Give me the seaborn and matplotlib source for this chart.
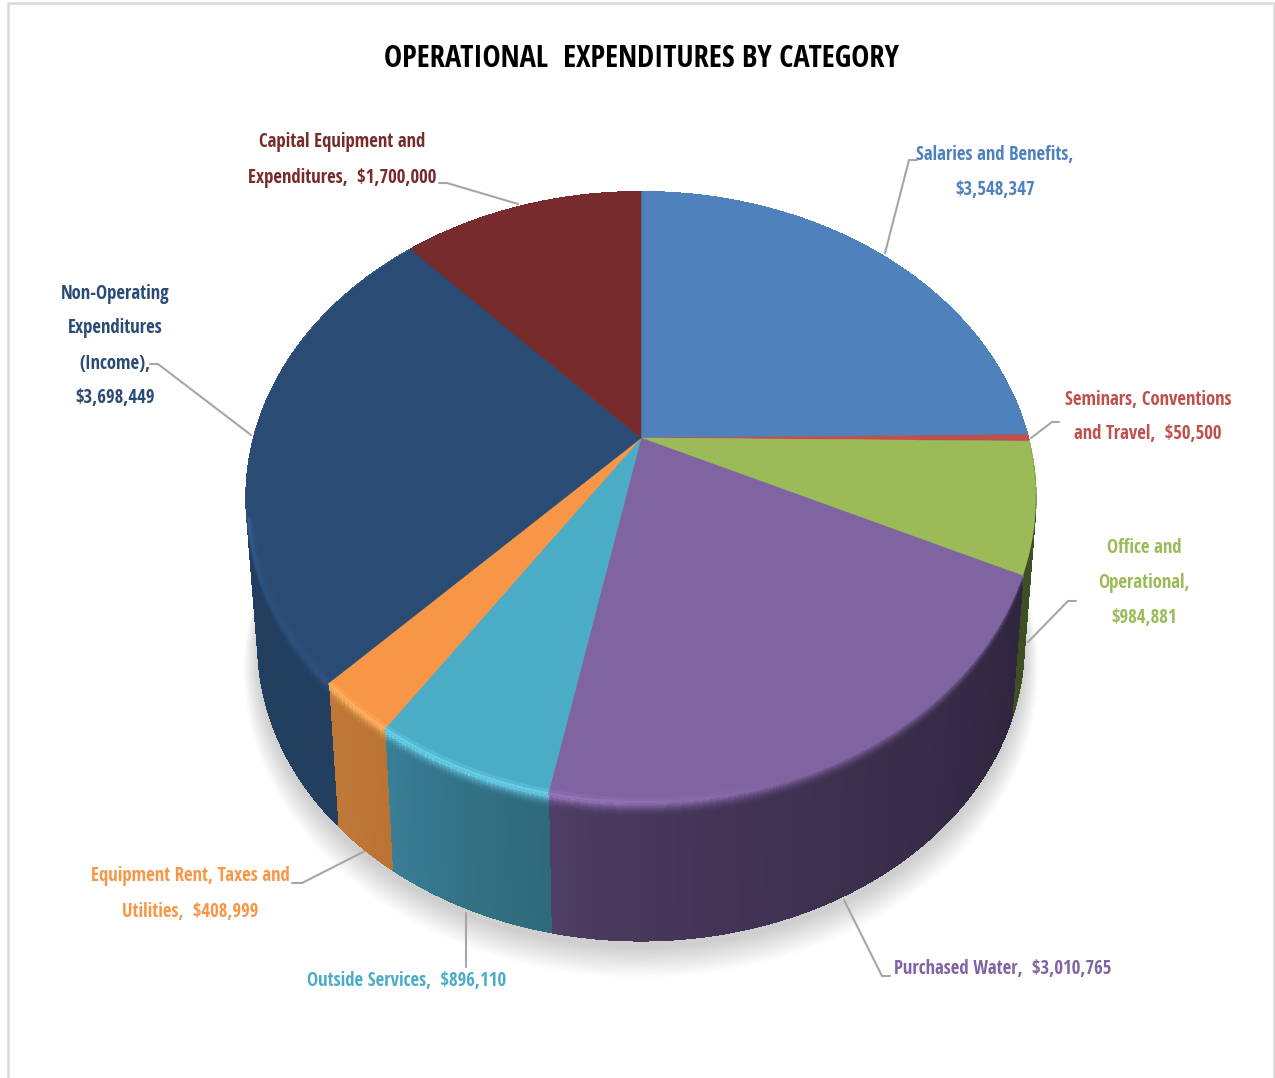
import numpy as np
import matplotlib
matplotlib.use("Agg")
import matplotlib.pyplot as plt
import matplotlib.transforms as mtransforms
from matplotlib.collections import PolyCollection
from matplotlib.colors import to_rgb
from matplotlib.path import Path
import seaborn as sns

categories = ["Salaries and Benefits", "Seminars, Conventions and Travel", "Office and Operational",
              "Purchased Water", "Outside Services", "Equipment Rent, Taxes and Utilities",
              "Non-Operating Expenditures (Income)", "Capital Equipment and Expenditures"]
values = [3548347, 50500, 984881, 3010765, 896110, 408999, 3698449, 1700000]
label_lines = ["Salaries and Benefits,\n{}", "Seminars, Conventions\nand Travel,  {}", "Office and\nOperational,\n{}",
               "Purchased Water,  {}", "Outside Services,  {}", "Equipment Rent, Taxes and\nUtilities,  {}",
               "Non-Operating\nExpenditures\n(Income),\n{}", "Capital Equipment and\nExpenditures,  {}"]
colors = ["#4f81bd", "#c0504d", "#9bbb59", "#8064a2", "#4bacc6", "#f79646", "#2a4b74", "#772b2a"]
# wall colours, taken from the left end of each slice's arc to its right end
side_start = ["#3a6090", "#8a3a38", "#3f4f24", "#503e66", "#3a8099", "#c07a38", "#1f3c60", "#5a2120"]
side_end   = ["#3a6090", "#8a3a38", "#3f4f24", "#30263f", "#2f6a7b", "#bb7334", "#233f60", "#5a2120"]
rim_start  = ["#4f81bd", "#c0504d", "#9bbb59", "#9c7cc4", "#72dcf8", "#ffb868", "#38679c", "#772b2a"]
rim_end    = ["#4f81bd", "#c0504d", "#9bbb59", "#8064a2", "#72dcf8", "#ffb868", "#2f5482", "#772b2a"]
label_pos = [(995, 172.5), (1148, 417), (1144, 583), (1003, 969), (407, 981), (190, 894), (115, 346), (342, 160)]
leaders = [[(917, 160), (909, 160), (885, 253)], [(1059, 422), (1052, 422), (1031, 438)],
           [(1076, 601), (1068, 601), (1028, 642)], [(890, 976), (882, 976), (844, 900)],
           [(466, 967), (466, 913)], [(292, 883), (302, 883), (365, 851)],
           [(150, 364), (158, 364), (251, 435)], [(439, 183), (447, 183), (518, 204)]]
title = "OPERATIONAL  EXPENDITURES BY CATEGORY"

sns.set_theme(style="white")
plt.rcParams["font.family"] = ["Open Sans Condensed", "Roboto Condensed", "DejaVu Sans"]
palette = sns.color_palette(colors)

CX, CY, AX, BY, C = 641.0, 438.0, 387.0, 294.0, 0.1954
DEPTH, SHRINK = 148.0, 0.97


def persp(xy):
    xy = np.asarray(xy, dtype=float)
    d = 1 + C * xy[..., 1]
    return np.stack([CX + AX * xy[..., 0] / d, CY - BY * xy[..., 1] / d], axis=-1)


def lower(p, t=1.0):
    s = 1 + (SHRINK - 1) * t
    return np.stack([CX + s * (p[..., 0] - CX), CY + DEPTH * t + s * (p[..., 1] - CY)], axis=-1)


class Perspective(mtransforms.Transform):
    input_dims = output_dims = 2

    def transform_non_affine(self, values):
        return persp(values)

    def transform_path_non_affine(self, path):
        # flatten the arcs first so that the projected outline stays exact
        polys = path.to_polygons(mtransforms.Affine2D().scale(2000), closed_only=False)
        return Path(persp(np.concatenate(polys) / 2000))


def rim(theta, r=1.0):
    a = np.radians(theta)
    return persp(np.stack([r * np.cos(a), r * np.sin(a)], axis=-1))


fig = plt.figure(figsize=(12.75, 10.78), dpi=100, facecolor="white")
ax = fig.add_axes([0, 0, 1, 1])
wedges, _ = ax.pie(values, colors=palette, startangle=90, counterclock=False, radius=1.0,
                   wedgeprops=dict(linewidth=0))
ax.set_aspect("auto")
ax.set_xlim(0, 1275)
ax.set_ylim(1078, 0)
ax.axis("off")
tr = Perspective() + ax.transData
for w, c in zip(wedges, colors):
    w.set_transform(tr)
    w.set_zorder(5)
    w.set_clip_on(False)
    w.set_edgecolor(c)
    w.set_linewidth(0.4)

# soft shadow under the disc
full = np.linspace(0, 360, 361)
outline = lower(rim(full))
for k in range(24):
    grow = 1 + 0.0016 * (24 - k)
    pts = np.stack([CX + grow * (outline[:, 0] - CX),
                    CY + 106 + 16 * (24 - k) / 24 + grow * (outline[:, 1] - CY - 100)], axis=-1)
    ax.fill(pts[:, 0], pts[:, 1], color="#000000", alpha=0.0085, lw=0, zorder=1)

# side walls
bands = np.concatenate([np.linspace(0, 0.10, 8), [1.0]])
for w, c0, c1, l0, l1 in zip(wedges, side_start, side_end, rim_start, rim_end):
    lo, hi = min(w.theta1, w.theta2), max(w.theta1, w.theta2)
    n = max(int((hi - lo) / 0.5), 2)
    th = np.linspace(lo, hi, n + 1)
    quads, cols = [], []
    a, b = np.array(to_rgb(c0)), np.array(to_rgb(c1))
    la, lb = np.array(to_rgb(l0)), np.array(to_rgb(l1))
    for i in range(n):
        f = i / max(n - 1, 1)
        base = a + (b - a) * f ** 0.7
        top_c = la + (lb - la) * min(f * 2.5, 1.0)
        arc = rim(th[i:i + 2])
        for j in range(len(bands) - 1):
            t0, t1 = bands[j], bands[j + 1]
            g = min(t0 / 0.10, 1.0)
            quads.append(np.vstack([lower(arc, t0), lower(arc, t1)[::-1]]))
            cols.append(tuple(top_c * (1 - g) ** 2 + base * (1 - (1 - g) ** 2)))
    ax.add_collection(PolyCollection(quads, facecolors=cols, edgecolors=cols, linewidths=0.9,
                                     antialiaseds=False, zorder=3))

# bevel highlight along the front of the rim only
for w, l0, l1 in zip(wedges, rim_start, rim_end):
    lo, hi = min(w.theta1, w.theta2), max(w.theta1, w.theta2)
    th = np.linspace(lo, hi, max(int(hi - lo), 2) + 1)
    th = th[np.sin(np.radians(th)) < -0.25]
    if len(th) < 2:
        continue
    for r, lw, alpha in [(0.997, 1.8, 0.7), (0.991, 2.6, 0.28)]:
        p = rim(th, r)
        for i in range(len(th) - 1):
            f = i / max(len(th) - 2, 1)
            col = np.array(to_rgb(l0)) + (np.array(to_rgb(l1)) - np.array(to_rgb(l0))) * min(f * 2.5, 1.0)
            ax.plot(p[i:i + 2, 0], p[i:i + 2, 1], color=tuple(col), lw=lw, alpha=alpha, zorder=6,
                    solid_capstyle="butt")

# leader lines
for pts in leaders:
    p = np.array(pts)
    ax.plot(p[:, 0], p[:, 1], color="#a6a6a6", lw=1.5, zorder=2, solid_joinstyle="miter")

# data labels
for tmpl, v, c, (x, y) in zip(label_lines, values, colors, label_pos):
    ax.text(x, y, tmpl.format(f"${v:,}"), color=c, ha="center", va="center", fontsize=13.5,
            fontweight="bold", linespacing=2.0, zorder=8)

ax.text(641, 59, title, color="black", ha="center", va="center", fontsize=22, fontweight="bold", zorder=8)

# chart frame
ax.plot([7.5, 7.5, 1273.5, 1273.5], [1078, 3, 3, 1078], color="#d9d9d9", lw=1.8, zorder=0, clip_on=False)

fig.savefig("out.png", dpi=100)
